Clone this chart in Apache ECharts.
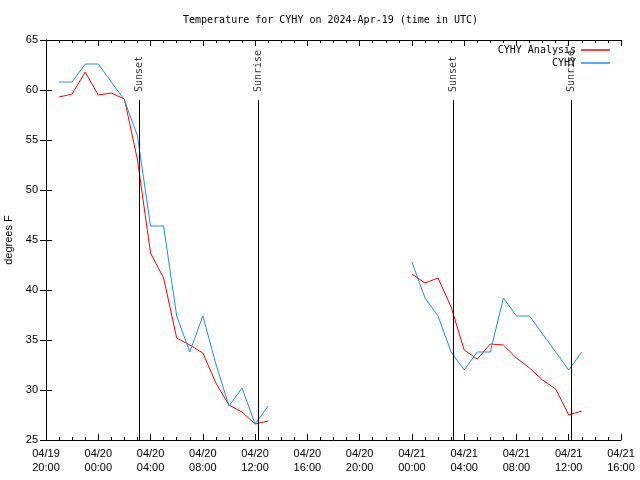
<!DOCTYPE html>
<html>
<head>
<meta charset="utf-8">
<script src="https://cdn.jsdelivr.net/npm/echarts@6/dist/echarts.min.js"></script>
<style>html,body{margin:0;padding:0;background:#fff}#c{width:640px;height:480px}</style>
</head>
<body>
<div id="c"></div>
<script>
// hours since 04/19 20:00 UTC
const analysisHours = [1,2,3,4,5,6,7,8,9,10,11,12,13,14,15,16,17, 28,29,30,31,32,33,34,35,36,37,38,39,40,41];
const analysisTemps = [59.3,59.6,61.8,59.5,59.7,59.1,53.0,43.7,41.2,35.2,34.5,33.7,30.7,28.5,27.8,26.6,26.9,
                       41.6,40.7,41.2,38.3,34.0,33.1,34.6,34.5,33.2,32.2,31.0,30.1,27.5,27.9];
const obsHours = [1,2,3,4,5,6,7,8,9,10,11,12,13,14,15,16,17, 28,29,30,31,32,33,34,35,36,37,38,39,40,41];
const obsTemps = [60.8,60.8,62.6,62.6,60.8,59.0,55.4,46.4,46.4,37.4,33.8,37.4,32.6,28.4,30.2,26.6,28.4,
                  42.8,39.2,37.4,33.8,32.0,33.8,33.8,39.2,37.4,37.4,35.6,33.8,32.0,33.8];
const sunHours = [7.14, 16.25, 31.17, 40.17];
const sunLabels = ['Sunset', 'Sunrise', 'Sunset', 'Sunrise'];
const xTickLabels = ['04/19\n20:00','04/20\n00:00','04/20\n04:00','04/20\n08:00','04/20\n12:00','04/20\n16:00',
                     '04/20\n20:00','04/21\n00:00','04/21\n04:00','04/21\n08:00','04/21\n12:00','04/21\n16:00'];
const seriesNames = ['CYHY Analysis', 'CYHY'];
const titleText = 'Temperature for CYHY on 2024-Apr-19 (time in UTC)';

function withGaps(hours, vals) {
  const out = [];
  for (let i = 0; i < hours.length; i++) {
    if (i > 0 && hours[i] - hours[i-1] > 1) out.push(['-', '-']);
    out.push([hours[i], vals[i]]);
  }
  return out;
}

const mono = 'DejaVu Sans Mono';
const sans = 'Liberation Sans';
const chart = echarts.init(document.getElementById('c'), null, {renderer: 'canvas'});
const axisCommon = {
  axisLine: {show: true, lineStyle: {color: '#000', width: 1}},
  splitLine: {show: false}
};
chart.setOption({
  animation: false,
  backgroundColor: '#fff',
  title: {
    text: titleText, left: 183, top: 15, padding: 0,
    textStyle: {fontFamily: mono, fontSize: 10, fontWeight: 'normal', color: '#000'}
  },
  legend: {
    data: seriesNames, orient: 'vertical', right: 30, top: 45, align: 'right',
    icon: 'rect', itemWidth: 29, itemHeight: 1.5, itemGap: 3, padding: 0,
    textStyle: {fontFamily: mono, fontSize: 10, color: '#000'}
  },
  grid: {left: 46, right: 19, top: 40, bottom: 40, containLabel: false, outerBoundsMode: 'none'},
  xAxis: [
    Object.assign({}, axisCommon, {
      type: 'value', min: 0, max: 44, interval: 4, position: 'bottom',
      axisTick: {show: true, inside: true, length: 6, lineStyle: {color: '#000'}},
      minorTick: {show: true, splitNumber: 4, length: 3, lineStyle: {color: '#000'}},
      axisLabel: {
        show: true, margin: 7, color: '#000', fontFamily: sans, fontSize: 11, lineHeight: 14,
        formatter: v => xTickLabels[Math.round(v / 4)] || ''
      }
    }),
    Object.assign({}, axisCommon, {
      type: 'value', min: 0, max: 44, interval: 4, position: 'top',
      axisTick: {show: true, inside: true, length: 6, lineStyle: {color: '#000'}},
      minorTick: {show: true, splitNumber: 4, length: 3, lineStyle: {color: '#000'}},
      axisLabel: {show: false}
    })
  ],
  yAxis: [
    Object.assign({}, axisCommon, {
      type: 'value', min: 25, max: 65, interval: 5, position: 'left',
      name: 'degrees F', nameLocation: 'middle', nameRotate: 90, nameGap: 31,
      nameTextStyle: {fontFamily: sans, fontSize: 11, color: '#000'},
      axisTick: {show: true, inside: true, length: 6, lineStyle: {color: '#000'}},
      axisLabel: {show: true, margin: 8, color: '#000', fontFamily: sans, fontSize: 11}
    }),
    Object.assign({}, axisCommon, {
      type: 'value', min: 25, max: 65, interval: 5, position: 'right',
      axisTick: {show: true, inside: true, length: 6, lineStyle: {color: '#000'}},
      axisLabel: {show: false}
    })
  ],
  series: [
    {
      name: seriesNames[0], type: 'line', xAxisIndex: 0, yAxisIndex: 0,
      data: withGaps(analysisHours, analysisTemps),
      symbol: 'none', connectNulls: false, color: '#ff0000',
      lineStyle: {color: '#ff0000', width: 1}, z: 3
    },
    {
      name: seriesNames[1], type: 'line', xAxisIndex: 0, yAxisIndex: 0,
      data: withGaps(obsHours, obsTemps),
      symbol: 'none', connectNulls: false, color: '#1e8cff',
      lineStyle: {color: '#1e8cff', width: 1}, z: 3
    },
    {
      name: 'sun', type: 'scatter', xAxisIndex: 0, yAxisIndex: 0,
      data: sunHours.map(h => [h, 59]),
      symbolSize: 0, silent: true, z: 4,
      label: {
        show: true, position: 'top', distance: 8, rotate: 90, align: 'left', verticalAlign: 'middle',
        fontFamily: mono, fontSize: 10, color: '#000',
        formatter: p => sunLabels[p.dataIndex]
      },
      markLine: {
        silent: true, symbol: ['none', 'none'], animation: false,
        label: {show: false},
        lineStyle: {color: '#000', width: 1, type: 'solid'},
        data: sunHours.map(h => [{coord: [h, 25]}, {coord: [h, 59]}])
      }
    }
  ]
});
</script>
</body>
</html>
